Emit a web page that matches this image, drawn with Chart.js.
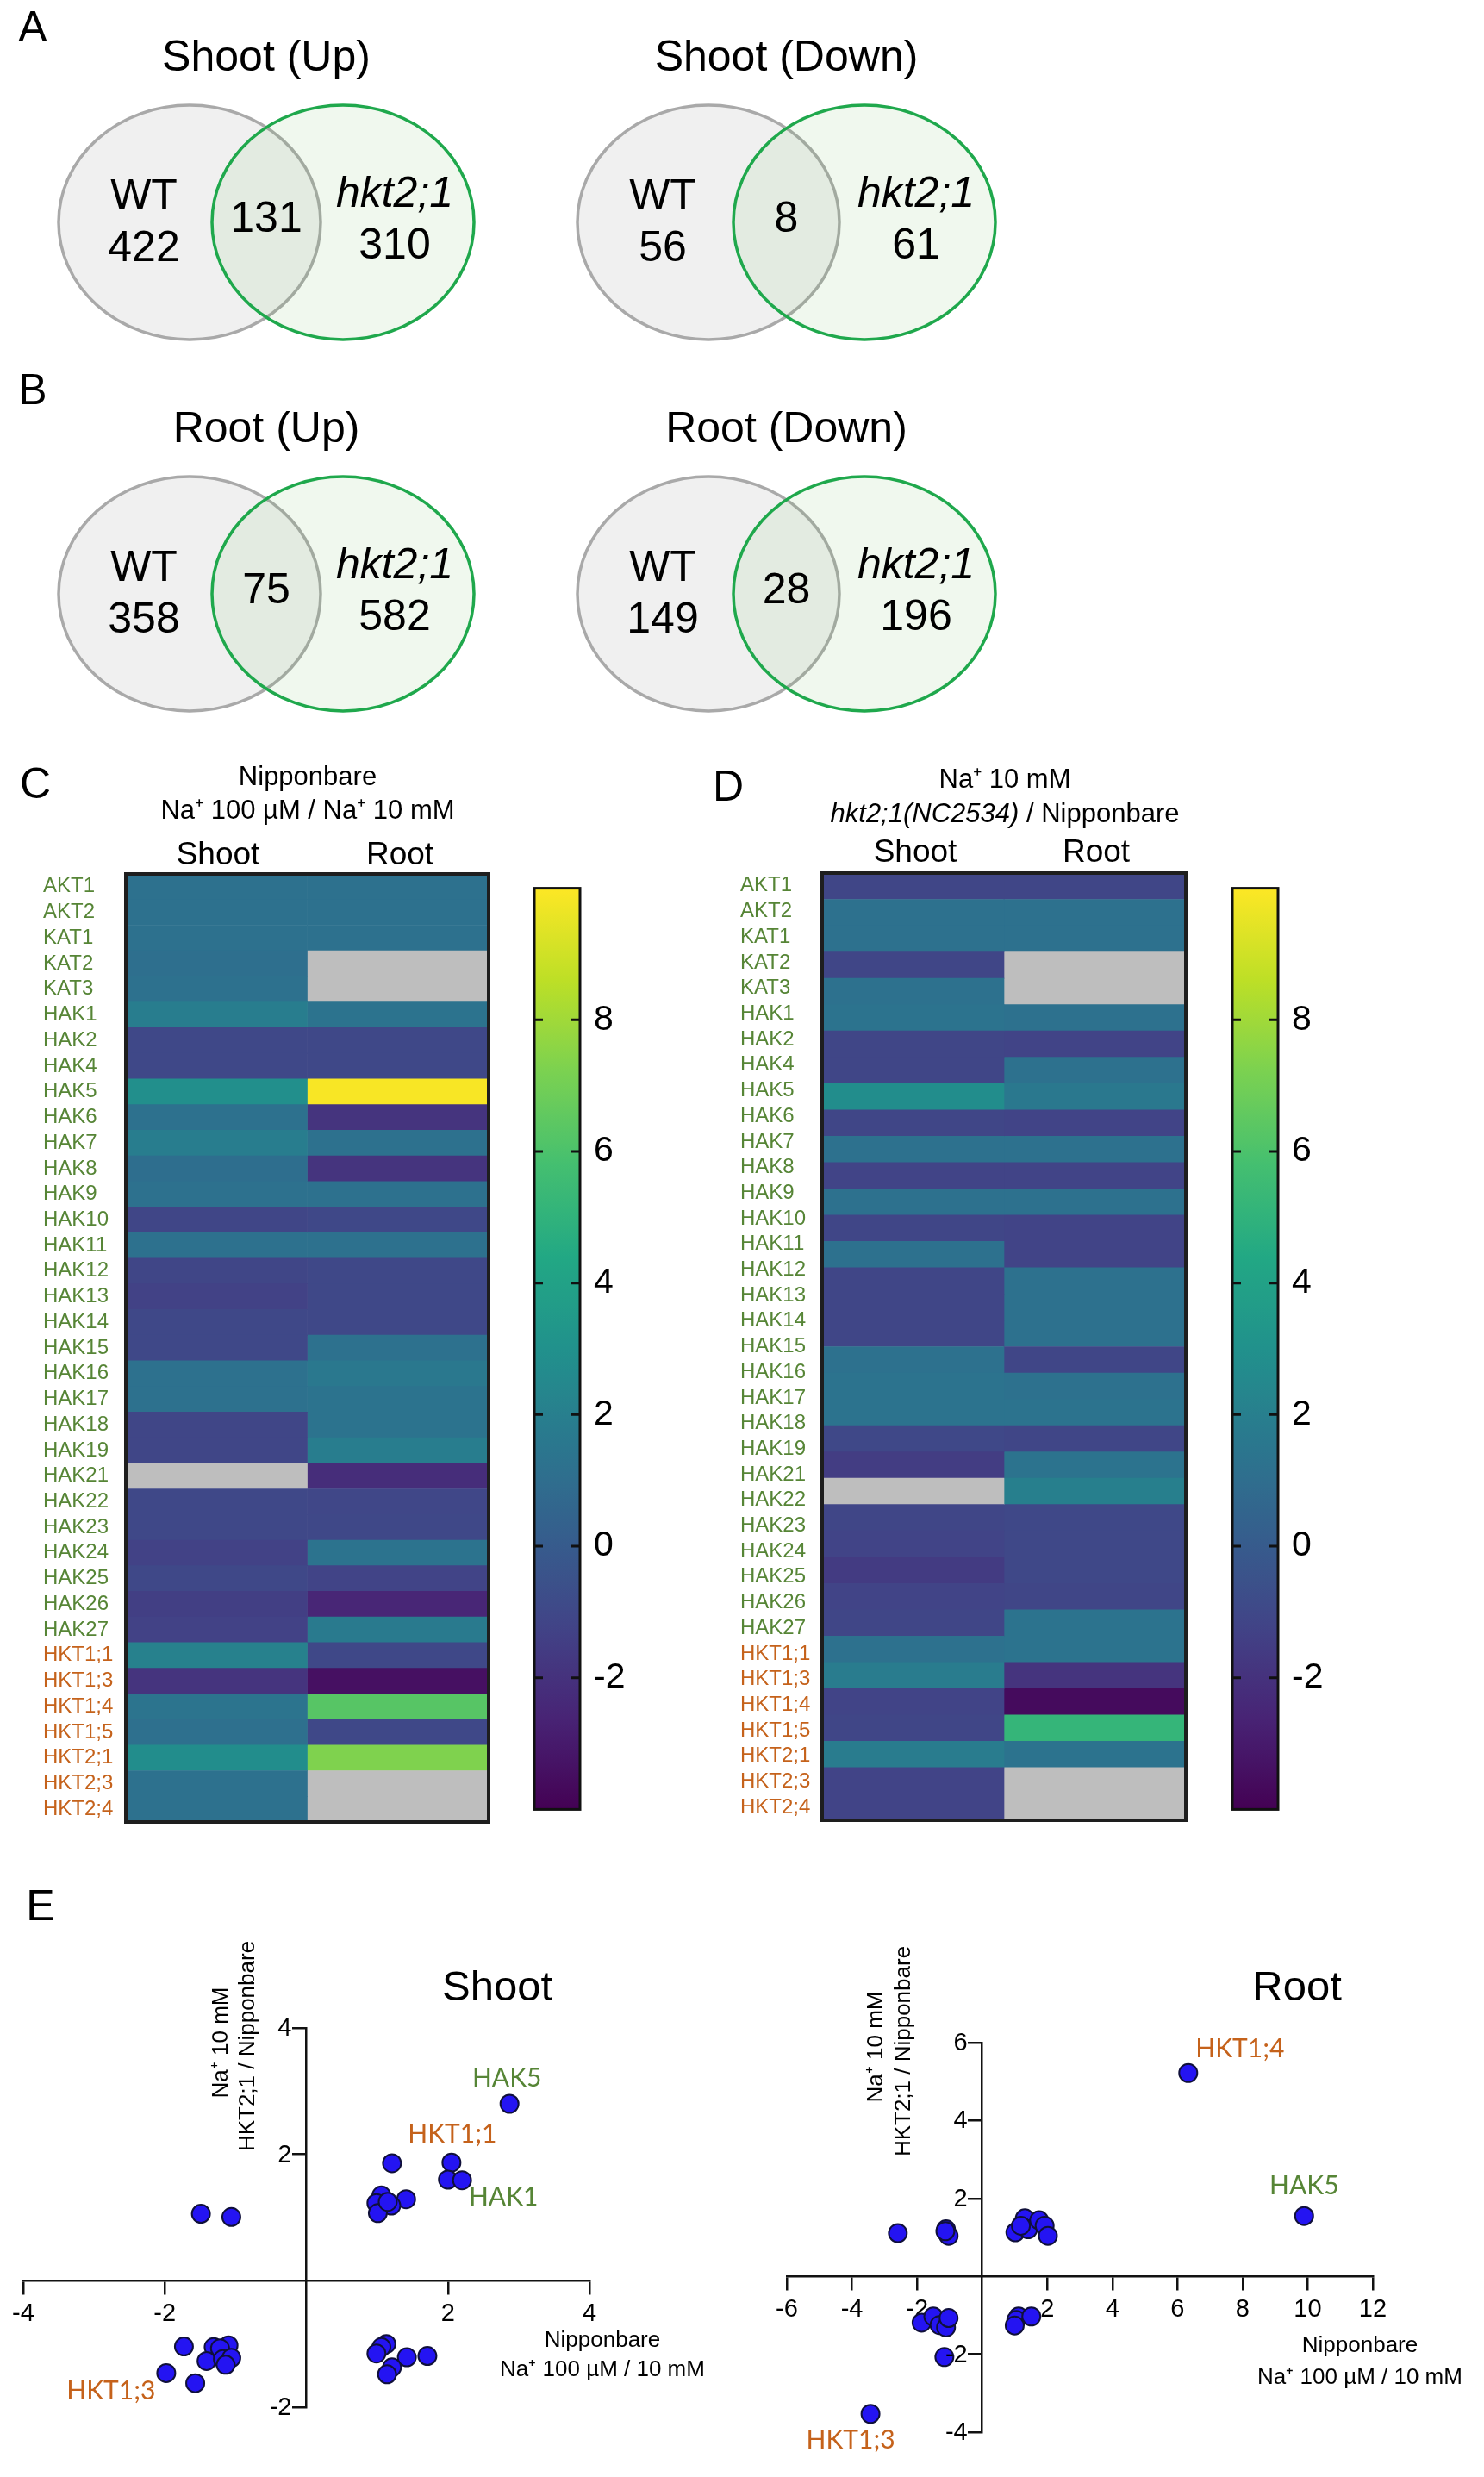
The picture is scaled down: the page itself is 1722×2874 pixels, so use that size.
<!DOCTYPE html>
<html>
<head>
<meta charset="utf-8">
<title>Venn diagrams, heatmaps and scatter plots</title>
<script src="https://cdn.jsdelivr.net/npm/chart.js@4.4.1/dist/chart.umd.min.js"></script>
<style>
  html, body { margin:0; padding:0; background:#ffffff; }
  body { width:1722px; height:2874px; position:relative; overflow:hidden; }
  .panel { position:absolute; }
  .panel canvas { display:block; }
</style>
</head>
<body>
<div class="panel" style="left:0px;top:0px;width:1722px;height:880px;"><canvas id="cVenn"></canvas></div>
<div class="panel" style="left:0px;top:870px;width:700px;height:1260px;"><canvas id="cHeatC"></canvas></div>
<div class="panel" style="left:600px;top:990px;width:170px;height:1150px;"><canvas id="cBarC"></canvas></div>
<div class="panel" style="left:780px;top:870px;width:640px;height:1260px;"><canvas id="cHeatD"></canvas></div>
<div class="panel" style="left:1410px;top:990px;width:170px;height:1150px;"><canvas id="cBarD"></canvas></div>
<div class="panel" style="left:0px;top:2180px;width:861px;height:694px;"><canvas id="cShoot"></canvas></div>
<div class="panel" style="left:861px;top:2180px;width:861px;height:694px;"><canvas id="cRoot"></canvas></div>
<script>
// ---------------- DATA ----------------
// Venn diagrams (A, B)
const vennTitles = ['Shoot (Up)', 'Shoot (Down)', 'Root (Up)', 'Root (Down)'];
const vennWtOnly  = [422, 56, 358, 149];
const vennShared  = [131, 8, 75, 28];
const vennMutOnly = [310, 61, 582, 196];

// Heatmap rows (C, D)
const genes = ['AKT1','AKT2','KAT1','KAT2','KAT3','HAK1','HAK2','HAK4','HAK5','HAK6','HAK7','HAK8','HAK9',
  'HAK10','HAK11','HAK12','HAK13','HAK14','HAK15','HAK16','HAK17','HAK18','HAK19','HAK21','HAK22','HAK23',
  'HAK24','HAK25','HAK26','HAK27','HKT1;1','HKT1;3','HKT1;4','HKT1;5','HKT2;1','HKT2;3','HKT2;4'];

// C: Nipponbare, Na+ 100 uM / Na+ 10 mM (null = not detected, grey)
const nipShoot = [1.2,1.2,1.2,1.1,1.2,1.9,-1.0,-1.0,2.9,1.2,1.9,1.05,1.2,-1.1,1.2,-1.1,-1.3,-1.0,-1.0,1.2,1.2,
  -1.1,-1.1,null,-1.0,-1.0,-1.3,-1.0,-1.4,-1.3,2.1,-1.9,1.4,1.15,2.8,1.2,1.2];
const nipRoot = [1.2,1.2,1.2,null,null,1.3,-1.0,-1.0,9.9,-1.9,1.2,-1.9,1.2,-1.0,1.2,-1.0,-1.0,-1.0,1.2,1.6,1.3,
  1.3,1.9,-2.2,-1.05,-1.0,1.3,-1.2,-2.5,1.7,-1.0,-3.4,6.3,-1.0,7.3,null,null];

// D: Na+ 10 mM, hkt2;1(NC2534) / Nipponbare (rows as drawn in the figure: 36 rows under 37 labels)
const mutShoot = [-1.1,1.2,1.2,-1.1,1.2,1.3,-1.1,-1.1,2.8,-1.1,1.2,-1.2,1.2,-1.1,1.2,-1.1,-1.1,-1.1,1.2,1.3,1.3,
  -1.0,-1.5,null,-1.1,-1.2,-1.6,-1.2,-1.1,1.2,1.8,-1.2,-1.1,1.8,-1.2,-1.2];
const mutRoot = [-1.1,1.2,1.2,null,null,1.2,-1.2,1.2,1.6,-1.2,1.2,-1.2,1.2,-1.2,-1.2,1.2,1.2,1.2,-1.1,1.2,1.3,
  -1.1,1.3,2.0,-1.0,-1.0,-1.0,-1.1,1.3,1.3,-1.9,-3.6,5.2,1.3,null,null];

const colorMin = -4, colorMax = 10;
const colorTicks = [-2, 0, 2, 4, 6, 8];

// E: scatter (x = Nipponbare Na+ 100 uM / 10 mM, y = Na+ 10 mM HKT2;1 / Nipponbare)
const shootX = [2.87,2.05,1.21,2.0,2.2,1.41,1.06,0.99,1.2,1.01,1.15,-1.49,-1.06,-1.73,-1.31,-1.10,-1.22,-1.41,
  -1.18,-1.06,-1.14,-1.98,-1.57,1.13,1.06,0.99,1.42,1.71,1.21,1.14];
const shootY = [2.80,1.87,1.86,1.60,1.59,1.29,1.35,1.23,1.19,1.07,1.25,1.06,1.01,-1.04,-1.05,-1.02,-1.07,-1.27,
  -1.24,-1.22,-1.33,-1.46,-1.62,-1.0,-1.05,-1.15,-1.21,-1.19,-1.37,-1.48];
const rootX = [6.33,9.89,-2.59,-1.11,-1.03,-1.13,1.02,1.31,1.41,1.75,1.92,2.02,1.19,-1.86,-1.5,-1.31,-1.11,-1.03,
  -1.16,-3.43,1.12,1.05,1.0,1.51];
const rootY = [5.22,1.55,1.11,1.21,1.04,1.16,1.13,1.49,1.21,1.44,1.30,1.04,1.30,-1.19,-1.03,-1.25,-1.31,-1.07,
  -2.07,-3.53,-1.03,-1.12,-1.26,-1.03];
const shootXTicks = [-4, -2, 2, 4];
const shootYTicks = [4, 2, -2];
const rootXTicks = [-6, -4, -2, 2, 4, 6, 8, 10, 12];
const rootYTicks = [6, 4, 2, -2, -4];

// ---------------- STYLE / LAYOUT ----------------
const FONT = "'Liberation Sans', Arial, Helvetica, sans-serif";
const LABEL_FONT = "Lato, 'Open Sans', sans-serif";
const GREEN_TXT = '#568536';
const ORANGE_TXT = '#c5621b';
const NA_COLOR = '#bebebe';
Chart.defaults.font.family = FONT;
Chart.defaults.color = '#000';
Chart.defaults.animation = false;

const VIRIDIS = ['#440154','#482475','#414487','#355f8d','#2a788e','#21918c','#22a884','#44bf70','#7ad151','#bddf26','#fde725'];
function hex2rgb(h){ return [parseInt(h.slice(1,3),16), parseInt(h.slice(3,5),16), parseInt(h.slice(5,7),16)]; }
function viridis(t){
  t = Math.max(0, Math.min(1, t));
  const s = t * 10, i = Math.min(9, Math.floor(s)), f = s - i;
  const a = hex2rgb(VIRIDIS[i]), b = hex2rgb(VIRIDIS[i+1]);
  return 'rgb(' + a.map((v,k)=>Math.round(v + (b[k]-v)*f)).join(',') + ')';
}
function cellColor(v){ return v === null ? NA_COLOR : viridis((v - colorMin) / (colorMax - colorMin)); }
function labelColor(name){ return name.indexOf('HKT') === 0 ? ORANGE_TXT : GREEN_TXT; }

function drawText(ctx, it, off){
  ctx.save();
  ctx.translate(it.x - off.x, it.y - off.y);
  if (it.rotate) ctx.rotate(it.rotate);
  ctx.textBaseline = 'middle';
  ctx.fillStyle = it.color || '#000';
  const segs = it.segments || [{ text: it.text, font: it.font }];
  let total = 0;
  segs.forEach(s => { ctx.font = s.font || it.font; s.w = ctx.measureText(s.text).width; total += s.w; });
  let start = it.align === 'left' ? 0 : (it.align === 'right' ? -total : -total / 2);
  ctx.textAlign = 'left';
  segs.forEach(s => { ctx.font = s.font || it.font; ctx.fillText(s.text, start, 0); start += s.w; });
  ctx.restore();
}
function overlay(items, off){
  return { id: 'overlay', afterDraw(chart){ items.forEach(it => drawText(chart.ctx, it, off)); } };
}
const commonPlugins = { legend: { display: false }, tooltip: { enabled: false } };

// ---------------- A / B : Venn diagrams ----------------
const VENN = { rx: 152, ry: 136, wtX: [220, 822, 220, 822], mutX: [398, 1003, 398, 1003], cy: [258, 258, 689, 689] };
function ellipseStyle(rx, ry, fill, stroke, lw){
  const c = document.createElement('canvas');
  c.width = Math.ceil(2 * rx + lw + 4); c.height = Math.ceil(2 * ry + lw + 4);
  const g = c.getContext('2d');
  g.beginPath(); g.ellipse(c.width / 2, c.height / 2, rx, ry, 0, 0, Math.PI * 2);
  g.fillStyle = fill; g.fill();
  g.lineWidth = lw; g.strokeStyle = stroke; g.stroke();
  return c;
}
(function(){
  const items = [
    { text: 'A', x: 38, y: 34, font: '50px ' + FONT },
    { text: 'B', x: 38, y: 455, font: '50px ' + FONT }
  ];
  vennTitles.forEach((t, i) => {
    const cx = (VENN.wtX[i] + VENN.mutX[i]) / 2, cy = VENN.cy[i];
    items.push({ text: t, x: cx, y: cy - 190, font: '50px ' + FONT });
    items.push({ text: 'WT', x: VENN.wtX[i] - 53, y: cy - 29, font: '50px ' + FONT });
    items.push({ text: String(vennWtOnly[i]), x: VENN.wtX[i] - 53, y: cy + 31, font: '50px ' + FONT });
    items.push({ text: String(vennShared[i]), x: cx, y: cy - 3, font: '50px ' + FONT });
    items.push({ text: 'hkt2;1', x: VENN.mutX[i] + 60, y: cy - 32, font: 'italic 50px ' + FONT });
    items.push({ text: String(vennMutOnly[i]), x: VENN.mutX[i] + 60, y: cy + 28, font: '50px ' + FONT });
  });
  const wtStyle = ellipseStyle(VENN.rx, VENN.ry, 'rgba(0,0,0,0.06)', '#a9a9a9', 3.5);
  const mutStyle = ellipseStyle(VENN.rx, VENN.ry, 'rgba(112,190,90,0.10)', '#1fa84c', 3.5);
  new Chart(document.getElementById('cVenn'), {
    type: 'scatter',
    data: { datasets: [
      { label: 'WT', order: 2, data: VENN.wtX.map((x, i) => ({ x, y: VENN.cy[i] })),
        pointStyle: wtStyle, pointRadius: VENN.ry, pointHoverRadius: VENN.ry, clip: false },
      { label: 'hkt2;1', order: 1, data: VENN.mutX.map((x, i) => ({ x, y: VENN.cy[i] })),
        pointStyle: mutStyle, pointRadius: VENN.ry, pointHoverRadius: VENN.ry, clip: false }
    ]},
    options: {
      responsive: true, maintainAspectRatio: false, events: [],
      layout: { padding: 0, autoPadding: false },
      plugins: commonPlugins,
      scales: {
        x: { type: 'linear', min: 0, max: 1722, display: false },
        y: { type: 'linear', min: 0, max: 880, reverse: true, display: false }
      }
    },
    plugins: [overlay(items, { x: 0, y: 0 })]
  });
})();

// ---------------- C / D : heatmaps ----------------
function framePlugin(){
  return { id: 'frame', afterDatasetsDraw(chart){
    const a = chart.chartArea, c = chart.ctx;
    c.save(); c.strokeStyle = '#1e1e1e'; c.lineWidth = 4;
    c.strokeRect(a.left, a.top, a.right - a.left, a.bottom - a.top);
    c.restore();
  }};
}
function heatmap(canvasId, rowKeys, tickLabels, shoot, root, pad, axisW, items, off){
  const separate = rowKeys !== tickLabels;
  const labelAxis = {
    type: 'category', position: 'left', offset: true, labels: tickLabels,
    grid: { display: false, drawTicks: false }, border: { display: false },
    ticks: { autoSkip: false, crossAlign: 'far', padding: 0,
      font: { size: 24, family: FONT }, color: c => labelColor(tickLabels[c.index]) },
    afterFit: s => { s.width = axisW; }
  };
  const scales = { x: { type: 'linear', min: 0, max: 2, display: false } };
  if (separate) {
    scales.y = { type: 'category', offset: true, labels: rowKeys, display: false };
    scales.y2 = labelAxis;
  } else {
    scales.y = labelAxis;
  }
  const common = { xAxisID: 'x', yAxisID: 'y', grouped: false, barPercentage: 1, categoryPercentage: 1,
    borderWidth: 0, borderSkipped: false };
  new Chart(document.getElementById(canvasId), {
    type: 'bar',
    data: { labels: rowKeys, datasets: [
      Object.assign({ label: 'Shoot', data: shoot.map(() => [0, 1]), backgroundColor: shoot.map(cellColor) }, common),
      Object.assign({ label: 'Root', data: root.map(() => [1, 2]), backgroundColor: root.map(cellColor) }, common)
    ]},
    options: {
      indexAxis: 'y', responsive: true, maintainAspectRatio: false, events: [],
      layout: { padding: pad, autoPadding: false }, plugins: commonPlugins, scales
    },
    plugins: [framePlugin(), overlay(items, off)]
  });
}
function colorbar(canvasId){
  const grad = (ctx) => {
    const a = ctx.chart.chartArea;
    if (!a) return '#21918c';
    const g = ctx.chart.ctx.createLinearGradient(0, a.bottom, 0, a.top);
    for (let i = 0; i <= 40; i++) g.addColorStop(i / 40, viridis(i / 40));
    return g;
  };
  new Chart(document.getElementById(canvasId), {
    type: 'bar',
    data: { labels: [''], datasets: [{ data: [[colorMin, colorMax]], backgroundColor: grad,
      barPercentage: 1, categoryPercentage: 1, borderWidth: 0, borderSkipped: false }] },
    options: {
      responsive: true, maintainAspectRatio: false, events: [],
      layout: { padding: { left: 20, right: 17, top: 25, bottom: 28 }, autoPadding: false },
      plugins: commonPlugins,
      scales: {
        x: { display: false },
        y: { position: 'right', min: colorMin, max: colorMax,
          afterBuildTicks: s => { s.ticks = colorTicks.map(v => ({ value: v })); },
          ticks: { font: { size: 41, family: FONT }, color: '#000', padding: 16 },
          grid: { display: false, drawTicks: false }, border: { display: false },
          afterFit: s => { s.width = 80; } }
      }
    },
    plugins: [{ id: 'cbarFrame', afterDatasetsDraw(chart){
      const a = chart.chartArea, c = chart.ctx, s = chart.scales.y;
      c.save(); c.strokeStyle = '#111'; c.lineWidth = 3;
      c.strokeRect(a.left, a.top, a.right - a.left, a.bottom - a.top);
      colorTicks.forEach(v => {
        const y = s.getPixelForValue(v);
        c.beginPath(); c.moveTo(a.left, y); c.lineTo(a.left + 10, y);
        c.moveTo(a.right - 10, y); c.lineTo(a.right, y); c.stroke();
      });
      c.restore();
    }}]
  });
}

heatmap('cHeatC', genes, genes, nipShoot, nipRoot,
  { left: 50, right: 133, top: 144, bottom: 16 }, 96,
  [
    { text: 'C', x: 41, y: 912, font: '50px ' + FONT },
    { text: 'Nipponbare', x: 357, y: 902, font: '31px ' + FONT },
    { text: 'Na\u207A 100 \u00B5M / Na\u207A 10 mM', x: 357, y: 941, font: '31px ' + FONT },
    { text: 'Shoot', x: 253, y: 993, font: '37px ' + FONT },
    { text: 'Root', x: 464, y: 993, font: '37px ' + FONT }
  ], { x: 0, y: 870 });
colorbar('cBarC');

const mutRowKeys = mutShoot.map((_, i) => 'row' + (i + 1));
heatmap('cHeatD', mutRowKeys, genes, mutShoot, mutRoot,
  { left: 79, right: 44, top: 143, bottom: 18 }, 95,
  [
    { text: 'D', x: 845, y: 915, font: '50px ' + FONT },
    { text: 'Na\u207A 10 mM', x: 1166, y: 905, font: '31px ' + FONT },
    { segments: [ { text: 'hkt2;1(NC2534)', font: 'italic 31px ' + FONT }, { text: ' / Nipponbare', font: '31px ' + FONT } ],
      x: 1166, y: 945, font: '31px ' + FONT },
    { text: 'Shoot', x: 1062, y: 990, font: '37px ' + FONT },
    { text: 'Root', x: 1272, y: 990, font: '37px ' + FONT }
  ], { x: 780, y: 870 });
colorbar('cBarD');

// ---------------- E : scatter plots ----------------
function scatterPlot(canvasId, xs, ys, xr, yr, xTicks, yTicks, pad, items, off, notes){
  const gridOpts = { drawOnChartArea: false, drawTicks: true, tickLength: 15, color: '#111', tickColor: '#111', lineWidth: 2.5, tickWidth: 2.5 };
  const borderOpts = { display: true, color: '#111', width: 2.5 };
  new Chart(document.getElementById(canvasId), {
    type: 'scatter',
    data: { datasets: [{ data: xs.map((x, i) => ({ x, y: ys[i] })), pointRadius: 10.5, pointHoverRadius: 10.5,
      backgroundColor: '#2414f2', borderColor: '#10103a', borderWidth: 2, clip: false }] },
    options: {
      responsive: true, maintainAspectRatio: false, events: [],
      layout: { padding: pad, autoPadding: false }, plugins: commonPlugins,
      scales: {
        x: { type: 'linear', min: xr[0], max: xr[1], position: { y: 0 },
          afterBuildTicks: s => { s.ticks = xTicks.map(v => ({ value: v })); },
          afterFit: s => { s.height = 0; },
          ticks: { font: { size: 29, family: FONT }, color: '#000', autoSkip: false, maxRotation: 0, padding: 6 },
          grid: gridOpts, border: borderOpts },
        y: { type: 'linear', min: yr[0], max: yr[1], position: { x: 0 },
          afterBuildTicks: s => { s.ticks = yTicks.map(v => ({ value: v })); },
          afterFit: s => { s.width = 0; },
          ticks: { display: false },
          grid: gridOpts, border: borderOpts }
      }
    },
    plugins: [overlay(items, off), { id: 'notes', afterDraw(chart){
      const sx = chart.scales.x, sy = chart.scales.y, x0 = sx.getPixelForValue(0);
      // y tick labels (left of the tick marks)
      yTicks.forEach(v => drawText(chart.ctx, {
        text: String(v), font: '29px ' + FONT, align: 'right',
        x: x0 - 17 + off.x, y: sy.getPixelForValue(v) + 1 + off.y
      }, off));
      notes.forEach(n => drawText(chart.ctx, {
        text: n.text, font: '30px ' + LABEL_FONT, color: labelColor(n.text),
        x: sx.getPixelForValue(xs[n.i]) + n.dx + off.x, y: sy.getPixelForValue(ys[n.i]) + n.dy + off.y
      }, off));
    }}]
  });
}
const ROT = -Math.PI / 2;
scatterPlot('cShoot', shootX, shootY, [-4, 4], [-2, 4], shootXTicks, shootYTicks,
  { left: 27, right: 177, top: 173, bottom: 81 },
  [
    { text: 'E', x: 47, y: 2214, font: '50px ' + FONT },
    { text: 'Shoot', x: 577, y: 2307, font: '49px ' + FONT },
    { text: 'Na\u207A 10 mM', x: 257, y: 2370, font: '26px ' + FONT, rotate: ROT },
    { text: 'HKT2;1 / Nipponbare', x: 288, y: 2374, font: '26px ' + FONT, rotate: ROT },
    { text: 'Nipponbare', x: 699, y: 2716, font: '26px ' + FONT },
    { text: 'Na\u207A 100 \u00B5M / 10 mM', x: 699, y: 2750, font: '26px ' + FONT }
  ], { x: 0, y: 2180 },
  [ { text: 'HAK5', i: 0, dx: -3, dy: -30 }, { text: 'HKT1;1', i: 1, dx: 1, dy: -33 },
    { text: 'HAK1', i: 4, dx: 48, dy: 20 }, { text: 'HKT1;3', i: 21, dx: -64, dy: 21 } ]);

scatterPlot('cRoot', rootX, rootY, [-6, 12], [-4, 6], rootXTicks, rootYTicks,
  { left: 52, right: 129, top: 190, bottom: 52 },
  [
    { text: 'Root', x: 1505, y: 2307, font: '49px ' + FONT },
    { text: 'Na\u207A 10 mM', x: 1017, y: 2375, font: '26px ' + FONT, rotate: ROT },
    { text: 'HKT2;1 / Nipponbare', x: 1049, y: 2380, font: '26px ' + FONT, rotate: ROT },
    { text: 'Nipponbare', x: 1578, y: 2722, font: '26px ' + FONT },
    { text: 'Na\u207A 100 \u00B5M / 10 mM', x: 1578, y: 2759, font: '26px ' + FONT }
  ], { x: 861, y: 2180 },
  [ { text: 'HKT1;4', i: 0, dx: 60, dy: -28 }, { text: 'HAK5', i: 1, dx: 0, dy: -35 },
    { text: 'HKT1;3', i: 19, dx: -23, dy: 31 } ]);
</script>
</body>
</html>
